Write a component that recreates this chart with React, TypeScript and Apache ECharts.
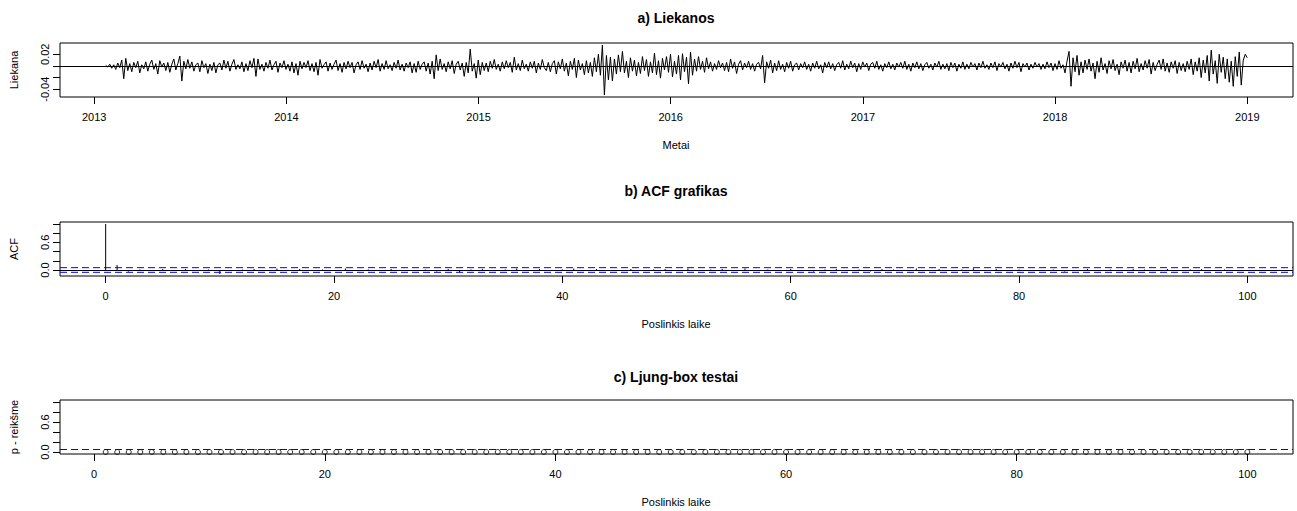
import React, { useEffect, useRef } from "react";
import * as echarts from "echarts";

// ---- a) residuals (values x 1000), regular series from residualStart to residualEnd
const residualStart = 2013.06;
const residualEnd = 2019.0;
const residualsX1000 = [
  1, -2, 3, -4, 2, -6, 5, -3, 10, -22,
  13, -8, 4, -10, 6, -3, 8, -12, 2, -5,
  7, -9, 3, 10, -6, 4, -14, 9, -2, 5,
  -8, 6, -11, 3, 12, -7, 4, 17, -26, 8,
  -5, 11, -4, 7, -9, 2, 5, -10, 9, -3,
  4, -13, 3, -8, 6, -12, 2, 5, -7, 10,
  -4, 8, -9, 3, 11, -6, 2, -5, 7, -10,
  4, -8, 9, -3, 13, -18, 12, -6, 3, -9,
  6, -4, 10, -7, 2, 8, -11, 5, -3, 9,
  -6, 3, -9, 7, -12, 4, -16, 8, -5, 6,
  -3, 9, -8, 4, -10, 6, -16, 11, -4, 2,
  7, -9, 5, -6, 3, 10, -8, 4, -11, 6,
  -5, 8, -3, 6, -12, 2, 7, -6, 9, -4,
  3, -10, 5, -7, 8, -3, 11, -9, 4, -6,
  9, -5, 2, -8, 6, -4, 10, -7, 3, -9,
  5, -3, 7, -12, 4, -11, 8, -6, 3, 7,
  -9, 5, -14, 8, -22, 19, -8, 12, -6, 4,
  -10, 7, -5, 9, -13, 3, 8, -7, 5, -18,
  6, -12, 29, -9, 4, -21, 10, -15, 6, -8,
  5, -10, 8, -4, 11, -6, 3, -9, 7, -5,
  9, -3, 6, -11, 15, -7, 4, -8, 10, -5,
  3, -9, 7, -4, 8, -12, 5, -6, 11, -3,
  -8, 6, -10, 4, 9, -14, 7, -5, 12, -9,
  5, -17, 8, -6, 13, -20, 10, -7, 4, -15,
  9, -12, 6, -18, 14, -10, 20, -16, 36, -50,
  18, -24, 15, -26, 12, -14, 19, -10, 25, -12,
  8, -20, 14, -9, 10, -17, 6, -13, 16, -8,
  11, -18, 7, -12, 22, -15, 9, -21, 13, -7,
  16, -11, 20, -19, 8, -14, 18, -24, 21, -10,
  15, -31, 24, -16, 12, -9, 16, -6, 8, -11,
  14, -5, 7, -9, 4, -6, 9, -3, 5, -8,
  6, -10, 12, -4, 7, -13, 3, 9, -7, 5,
  -3, 8, -6, 4, -9, 3, 6, -5, 18, -29,
  7, -4, 10, -12, 5, -8, 9, -6, 3, -10,
  6, -4, 8, -9, 2, 5, -7, 4, -3, 7,
  -6, 3, -9, 5, -4, 8, -5, 2, -12, 6,
  -3, 7, -5, 4, -8, 2, 6, -4, 9, -7,
  3, -5, 8, -3, 5, -10, 4, -6, 7, -2,
  5, -8, 3, 6, -4, 8, -6, 2, -9, 4,
  -3, 7, -5, 3, -7, 5, -2, 6, -4, 8,
  -6, 3, -9, 5, -3, 7, -5, 4, -8, 2,
  6, -4, 3, -7, 5, -2, 8, -6, 3, -5,
  4, -8, 6, -3, 5, -9, 3, -4, 7, -6,
  3, -5, 6, -2, 4, -7, 5, -3, 8, -4,
  2, -6, 5, -3, 7, -8, 4, -2, 6, -5,
  3, -9, 5, -4, 8, -3, 6, -10, 4, -2,
  5, -7, 3, -4, 6, -2, 4, -6, 3, -5,
  7, -3, 5, -8, 4, -6, 9, -4, 2, -12,
  8, 25, -35, 14, -10, 18, -16, 7, -12, 10,
  -6, 12, -9, 5, -22, 8, -11, 14, -7, 4,
  -13, 9, -5, 11, -8, 3, -15, 7, -4, 10,
  -9, 6, -12, 8, -5, 13, -10, 4, -7, 9,
  -4, 11, -14, 6, -8, 3, 10, -6, 12, -9,
  5, -11, 7, -4, 9, -13, 6, -8, 4, -10,
  8, -6, 12, -15, 7, -9, 14, -20, 10, -12,
  18, -26, 27, -14, 9, -30, 20, -11, 15, -22,
  12, -28, 8, -35, 16, -18, 24, -33, 10, 20,
  14,
];
const yearTicks = [2013, 2014, 2015, 2016, 2017, 2018, 2019];
const residualTicks = [-0.04, -0.02, 0, 0.02];
const residualLabels = [-0.04, 0.02];

// ---- b) ACF, lags 0..100
const acfValues = [
  1.0, 0.11, -0.03, 0.01, -0.02, 0.02, -0.01, 0.02, -0.02, 0.01,
  -0.087, -0.02, 0.01, 0.02, -0.01, 0.03, -0.02, 0.02, -0.01, 0.01,
  -0.02, 0.03, -0.01, 0.01, -0.02, 0.02, -0.01, -0.02, 0.01, -0.03,
  0.02, -0.05, 0.01, 0.02, -0.02, 0.01, 0.03, -0.01, 0.02, -0.02,
  0.01, 0.03, -0.01, 0.02, -0.02, -0.01, 0.02, -0.02, 0.01, 0.02,
  -0.01, 0.03, -0.02, 0.01, 0.02, -0.01, 0.03, -0.02, 0.01, -0.02,
  0.02, -0.01, -0.03, 0.01, 0.02, -0.02, 0.01, -0.03, 0.02, 0.01,
  -0.02, 0.03, -0.01, 0.02, -0.02, 0.01, 0.04, -0.01, 0.02, -0.02,
  0.01, -0.01, -0.02, 0.01, -0.03, -0.01, 0.02, -0.02, 0.01, -0.01,
  0.02, 0.01, -0.02, 0.02, -0.01, 0.01, 0.02, -0.02, 0.01, -0.01,
  -0.02,
];
const acfLimit = 0.0506;
const acfLagRange = [-4, 104];
const lagTicks = [0, 20, 40, 60, 80, 100];
const unitTicks = [0, 0.2, 0.4, 0.6, 0.8, 1.0];
const unitLabels = [0, 0.6];

// ---- c) Ljung-Box p-values, lags 1..100
const ljungPValues = [
  0, 0, 0, 0, 0, 0, 0, 0, 0, 0,
  0, 0, 0, 0, 0, 0, 0, 0, 0, 0,
  0, 0, 0, 0, 0, 0, 0, 0, 0, 0,
  0, 0, 0, 0, 0, 0, 0, 0, 0, 0,
  0, 0, 0, 0, 0, 0, 0, 0, 0, 0,
  0, 0, 0, 0, 0, 0, 0, 0, 0, 0,
  0, 0, 0, 0, 0, 0, 0, 0, 0, 0,
  0, 0, 0, 0, 0, 0, 0, 0, 0, 0,
  0, 0, 0, 0, 0, 0, 0, 0, 0, 0,
  0, 0, 0, 0, 0, 0, 0, 0, 0, 0,
];
const ljungLevel = 0.05;
const ljungLagRange = [-2.96, 103.96];

const FONT = '"Liberation Sans", Arial, sans-serif';
const BLUE = "#0000ff";

function buildOption() {
  const step = (residualEnd - residualStart) / (residualsX1000.length - 1);
  const residualData = residualsX1000.map((v, i) => [residualStart + i * step, v / 1000]);
  const acfData = acfValues.map((v, i) => [i, v]);
  const ljungData = ljungPValues.map((p, i) => [i + 1, p]);

  const gridBase = {
    left: 60,
    width: 1233,
    height: 54,
    show: true,
    borderColor: "#000",
    borderWidth: 1,
    backgroundColor: "transparent",
  };

  const xAxis = (gridIndex: number, min: number, max: number, ticks: number[]) => ({
    type: "value",
    gridIndex,
    position: "bottom",
    min,
    max,
    axisLine: { show: false, onZero: false },
    splitLine: { show: false },
    axisTick: { show: true, inside: false, length: 7, customValues: ticks, lineStyle: { color: "#000", width: 1 } },
    axisLabel: {
      customValues: ticks,
      margin: 14,
      color: "#000",
      fontSize: 11,
      fontFamily: FONT,
      formatter: (v: number) => String(Math.round(v)),
    },
  });

  const yAxis = (gridIndex: number, min: number, max: number, ticks: number[], labels: number[], digits: number) => ({
    type: "value",
    gridIndex,
    position: "left",
    min,
    max,
    axisLine: { show: false, onZero: false },
    splitLine: { show: false },
    axisTick: { show: true, inside: false, length: 7, customValues: ticks, lineStyle: { color: "#000", width: 1 } },
    axisLabel: {
      customValues: labels,
      rotate: 90,
      margin: 10,
      color: "#000",
      fontSize: 11,
      fontFamily: FONT,
      formatter: (v: number) => v.toFixed(digits),
    },
  });

  const zeroLine = {
    silent: true,
    symbol: ["none", "none"],
    label: { show: false },
    animation: false,
    lineStyle: { color: "#000", width: 1, type: "solid" },
    emphasis: { disabled: true },
    data: [{ yAxis: 0 }],
  };

  // horizontal reference line drawn through the axis scale, spanning the axis range
  const refLine = (axisIndex: number, range: number[], y: number) => ({
    type: "line",
    xAxisIndex: axisIndex,
    yAxisIndex: axisIndex,
    data: [
      [range[0], y],
      [range[1], y],
    ],
    symbol: "none",
    showSymbol: false,
    silent: true,
    color: BLUE,
    lineStyle: { color: BLUE, width: 1, type: [7, 4] },
    emphasis: { disabled: true },
    z: 5,
  });

  const text = (t: string, x: number, y: number, size: number, bold = false, rotate = false) => ({
    type: "text",
    x,
    y,
    rotation: rotate ? Math.PI / 2 : 0,
    style: {
      text: t,
      fill: "#000",
      font: `${bold ? "bold " : ""}${size}px ${FONT}`,
      textAlign: "center",
      textVerticalAlign: "middle",
    },
  });

  return {
    animation: false,
    backgroundColor: "#fff",
    grid: [
      { ...gridBase, top: 43 },
      { ...gridBase, top: 222 },
      { ...gridBase, top: 400 },
    ],
    xAxis: [
      xAxis(0, 2012.822, 2019.238, yearTicks),
      xAxis(1, acfLagRange[0], acfLagRange[1], lagTicks),
      xAxis(2, ljungLagRange[0], ljungLagRange[1], lagTicks),
    ],
    yAxis: [
      yAxis(0, -0.0534, 0.0394, residualTicks, residualLabels, 2),
      yAxis(1, -0.1305, 1.0435, unitTicks, unitLabels, 1),
      yAxis(2, -0.04, 1.04, unitTicks, unitLabels, 1),
    ],
    series: [
      {
        type: "line",
        xAxisIndex: 0,
        yAxisIndex: 0,
        data: residualData,
        symbol: "none",
        showSymbol: false,
        color: "#000",
        lineStyle: { color: "#000", width: 1 },
        markLine: zeroLine,
      },
      {
        type: "bar",
        xAxisIndex: 1,
        yAxisIndex: 1,
        data: acfData,
        barWidth: 1,
        color: "#000",
        itemStyle: { color: "#000" },
        markLine: zeroLine,
      },
      refLine(1, acfLagRange, acfLimit),
      refLine(1, acfLagRange, -acfLimit),
      {
        type: "scatter",
        xAxisIndex: 2,
        yAxisIndex: 2,
        data: ljungData,
        symbol: "circle",
        symbolSize: 5,
        clip: false,
        itemStyle: { color: "transparent", borderColor: "#000", borderWidth: 1 },
      },
      refLine(2, ljungLagRange, ljungLevel),
    ],
    graphic: [
      text("a) Liekanos", 676, 18, 14, true),
      text("b) ACF grafikas", 676, 191, 14, true),
      text("c) Ljung-box testai", 676, 377, 14, true),
      text("Metai", 676, 145, 11),
      text("Poslinkis laike", 676, 324, 11),
      text("Poslinkis laike", 676, 502, 11),
      text("Liekana", 14, 70, 11, false, true),
      text("ACF", 14, 249, 11, false, true),
      text("p - reikšme", 14, 427, 11, false, true),
    ],
  };
}

export default function App() {
  const ref = useRef<HTMLDivElement>(null);
  useEffect(() => {
    if (!ref.current) return;
    const chart = echarts.init(ref.current, undefined, { renderer: "svg" });
    chart.setOption(buildOption() as any);
    return () => chart.dispose();
  }, []);
  return (
    <div
      ref={ref}
      style={{ position: "fixed", left: 0, top: 0, width: 1297, height: 511, background: "#fff" }}
    />
  );
}
